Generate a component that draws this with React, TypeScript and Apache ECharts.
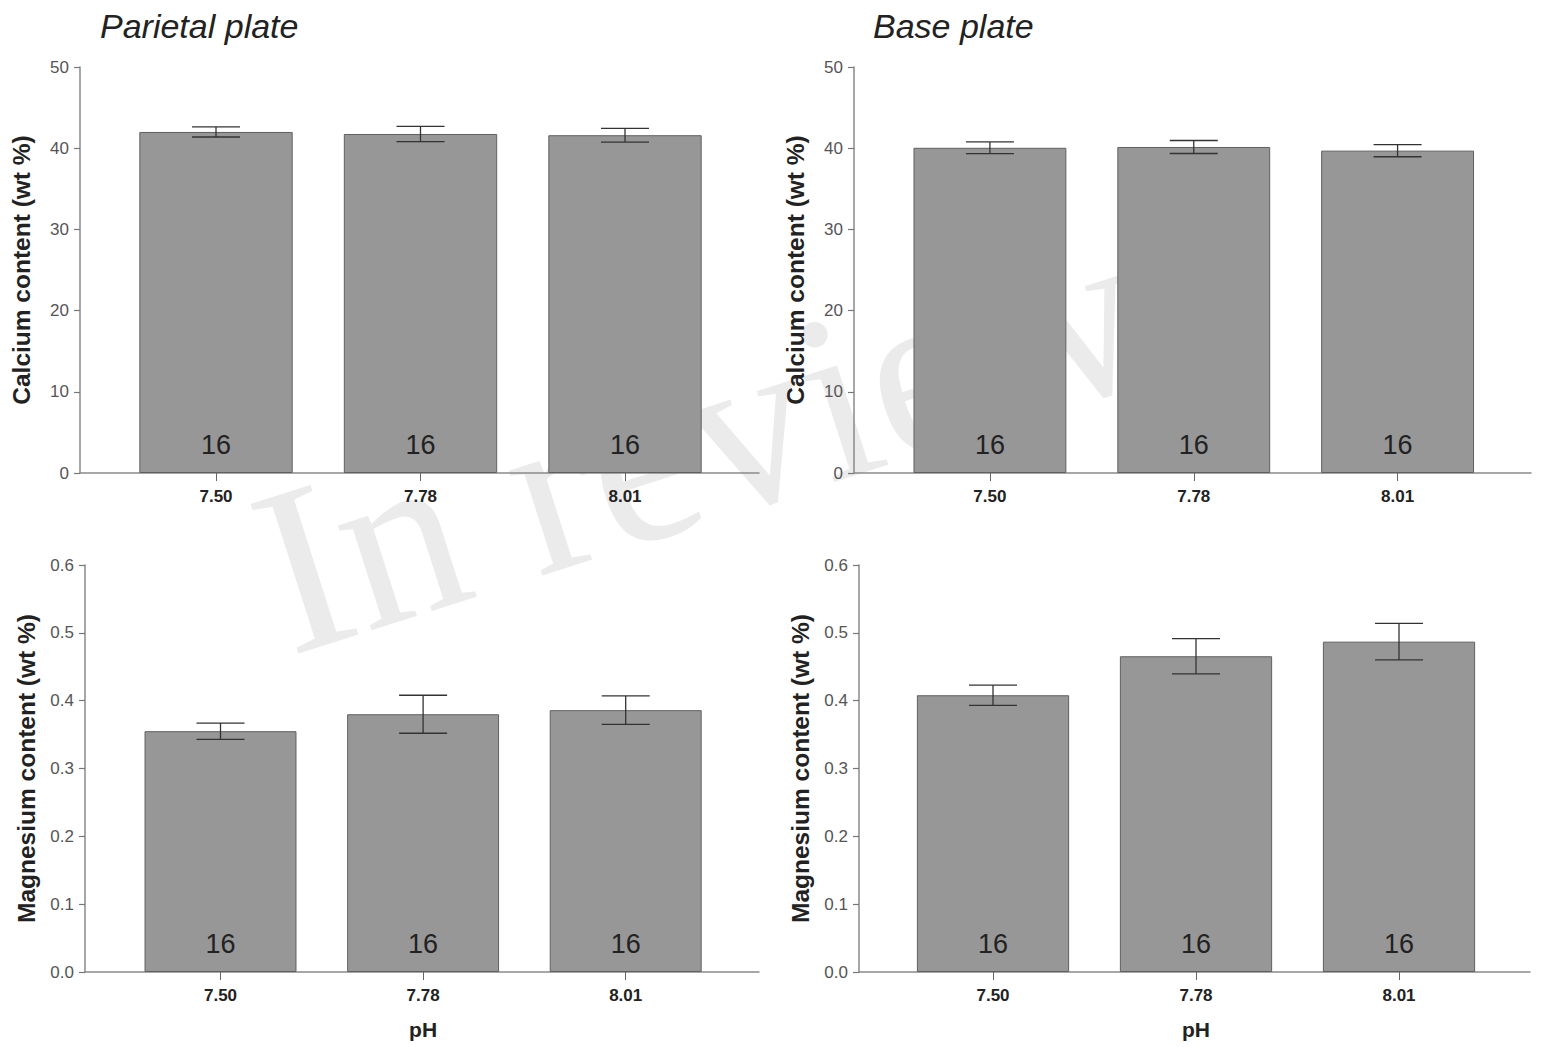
import React, { useEffect, useRef } from "react";
import * as echarts from "echarts";

// ---- data ----
const categories = ["7.50", "7.78", "8.01"];
const sampleCounts = [16, 16, 16];
const panelTitles = ["Parietal plate", "Base plate"];
const caYName = "Calcium content (wt %)";
const mgYName = "Magnesium content (wt %)";
const xName = "pH";

const caParietalMean = [42.0, 41.75, 41.6];
const caParietalSE = [0.62, 0.95, 0.85];
const caBaseMean = [40.05, 40.15, 39.7];
const caBaseSE = [0.72, 0.8, 0.75];
const mgParietalMean = [0.355, 0.38, 0.386];
const mgParietalSE = [0.012, 0.028, 0.021];
const mgBaseMean = [0.408, 0.4655, 0.487];
const mgBaseSE = [0.015, 0.026, 0.027];

const caTicks = { min: 0, max: 50, interval: 10 };
const mgTicks = { min: 0, max: 0.6, interval: 0.1 };

const FONT = '"Liberation Sans", Arial, sans-serif';

type Layout = { axisX: number; right: number; top: number; bottom: number; bandL: number; bandR: number };

const layouts: Layout[] = [
  { axisX: 80, right: 759, top: 67, bottom: 473, bandL: 113.75, bandR: 727.25 },
  { axisX: 854, right: 1531, top: 67, bottom: 473, bandL: 888, bandR: 1499.5 },
  { axisX: 85, right: 759, top: 565, bottom: 972, bandL: 119.2, bandR: 727 },
  { axisX: 859, right: 1530, top: 565, bottom: 972, bandL: 891.5, bandR: 1500.5 },
];

const panels = [
  { mean: caParietalMean, se: caParietalSE, ticks: caTicks, yName: caYName, dec: 0, pH: false },
  { mean: caBaseMean, se: caBaseSE, ticks: caTicks, yName: caYName, dec: 0, pH: false },
  { mean: mgParietalMean, se: mgParietalSE, ticks: mgTicks, yName: mgYName, dec: 1, pH: true },
  { mean: mgBaseMean, se: mgBaseSE, ticks: mgTicks, yName: mgYName, dec: 1, pH: true },
];

function buildOption() {
  const grid: any[] = [];
  const xAxis: any[] = [];
  const yAxis: any[] = [];
  const series: any[] = [];

  panels.forEach((p, i) => {
    const L = layouts[i];
    const h = L.bottom - L.top;
    grid.push({ left: L.axisX, top: L.top, width: L.right - L.axisX, height: h, containLabel: false });
    grid.push({ left: L.bandL, top: L.top, width: L.bandR - L.bandL, height: h, containLabel: false });

    xAxis.push({
      type: "value",
      gridIndex: 2 * i,
      min: 0,
      max: 1,
      axisLine: { show: true, onZero: false, lineStyle: { color: "#8a8a8a", width: 1.5 } },
      axisTick: { show: false },
      axisLabel: { show: false },
      splitLine: { show: false },
    });
    xAxis.push({
      type: "category",
      gridIndex: 2 * i + 1,
      data: categories,
      boundaryGap: true,
      axisLine: { show: false, onZero: false },
      axisTick: { show: true, alignWithLabel: true, length: 8, lineStyle: { color: "#666", width: 1 } },
      axisLabel: { color: "#222", fontFamily: FONT, fontWeight: "bold", fontSize: 17, margin: 15 },
      name: p.pH ? xName : "",
      nameLocation: "middle",
      nameGap: 47,
      nameTextStyle: { color: "#222", fontFamily: FONT, fontWeight: "bold", fontSize: 21 },
    });

    yAxis.push({
      type: "value",
      gridIndex: 2 * i,
      min: p.ticks.min,
      max: p.ticks.max,
      interval: p.ticks.interval,
      axisLine: { show: true, lineStyle: { color: "#8a8a8a", width: 1.5 } },
      axisTick: { show: true, length: 6, lineStyle: { color: "#777", width: 1.2 } },
      axisLabel: {
        color: "#555",
        fontFamily: FONT,
        fontSize: 17,
        margin: 11,
        formatter: (v: number) => v.toFixed(p.dec),
      },
      splitLine: { show: false },
      name: p.yName,
      nameLocation: "middle",
      nameRotate: 90,
      nameGap: 46,
      nameTextStyle: { color: "#222", fontFamily: FONT, fontWeight: "bold", fontSize: 24.5 },
    });
    yAxis.push({
      type: "value",
      gridIndex: 2 * i + 1,
      min: p.ticks.min,
      max: p.ticks.max,
      interval: p.ticks.interval,
      show: false,
      splitLine: { show: false },
    });

    series.push({
      type: "bar",
      xAxisIndex: 2 * i + 1,
      yAxisIndex: 2 * i + 1,
      data: p.mean,
      barWidth: "75%",
      z: 3,
      itemStyle: { color: "#979797", borderColor: "#606060", borderWidth: 1 },
      label: {
        show: true,
        position: "insideBottom",
        distance: 15,
        color: "#222",
        fontFamily: FONT,
        fontSize: 27,
        formatter: (params: any) => String(sampleCounts[params.dataIndex]),
      },
    });

    series.push({
      type: "custom",
      xAxisIndex: 2 * i + 1,
      yAxisIndex: 2 * i + 1,
      z: 5,
      encode: { x: 0, y: [1, 2] },
      data: p.mean.map((m, k) => [k, m - p.se[k], m + p.se[k]]),
      renderItem: (params: any, api: any) => {
        const x = api.value(0);
        const lo = api.coord([x, api.value(1)]);
        const hi = api.coord([x, api.value(2)]);
        const half = 24;
        const st = { stroke: "#333", lineWidth: 1.3 };
        return {
          type: "group",
          children: [
            { type: "line", shape: { x1: lo[0], y1: lo[1], x2: hi[0], y2: hi[1] }, style: st },
            { type: "line", shape: { x1: hi[0] - half, y1: hi[1], x2: hi[0] + half, y2: hi[1] }, style: st },
            { type: "line", shape: { x1: lo[0] - half, y1: lo[1], x2: lo[0] + half, y2: lo[1] }, style: st },
          ],
        };
      },
    });
  });

  return {
    animation: false,
    backgroundColor: "#ffffff",
    textStyle: { fontFamily: FONT },
    title: [
      {
        text: panelTitles[0],
        left: 100,
        top: 9,
        padding: 0,
        textStyle: { fontFamily: FONT, fontStyle: "italic", fontWeight: "normal", fontSize: 34, color: "#222" },
      },
      {
        text: panelTitles[1],
        left: 873,
        top: 9,
        padding: 0,
        textStyle: { fontFamily: FONT, fontStyle: "italic", fontWeight: "normal", fontSize: 34, color: "#222" },
      },
    ],
    graphic: [
      {
        type: "text",
        x: 700,
        y: 440,
        rotation: 0.31,
        z: 0,
        silent: true,
        style: {
          text: "In review",
          font: '240px "Liberation Serif", "Times New Roman", serif',
          fill: "#ebebeb",
          textAlign: "center",
          textVerticalAlign: "middle",
        },
      },
    ],
    grid,
    xAxis,
    yAxis,
    series,
  };
}

export default function App() {
  const ref = useRef<HTMLDivElement>(null);
  useEffect(() => {
    if (!ref.current) return;
    const chart = echarts.init(ref.current, undefined, { renderer: "svg" });
    chart.setOption(buildOption() as any);
    return () => chart.dispose();
  }, []);
  return (
    <div
      ref={ref}
      style={{ position: "fixed", left: 0, top: 0, width: 1544, height: 1047, background: "#fff" }}
    />
  );
}
